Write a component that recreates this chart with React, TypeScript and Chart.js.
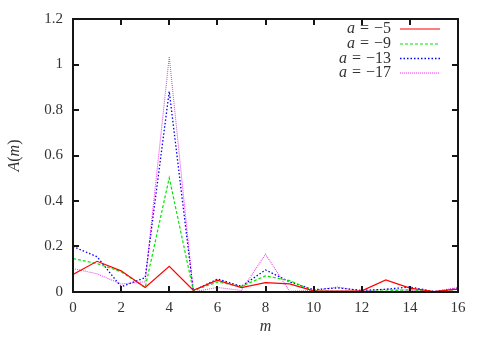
import React, { useEffect, useRef } from "react";
import { Chart, registerables } from "chart.js";

Chart.register(...registerables);

const mValues = [0, 1, 2, 3, 4, 5, 6, 7, 8, 9, 10, 11, 12, 13, 14, 15, 16];
const a5 = [0.077, 0.135, 0.093, 0.02, 0.113, 0.008, 0.052, 0.019, 0.041, 0.036, 0.005, 0.004, 0.005, 0.053, 0.017, 0.002, 0.013];
const a9 = [0.147, 0.125, 0.089, 0.02, 0.502, 0.006, 0.044, 0.025, 0.071, 0.05, 0.005, 0.003, 0.003, 0.004, 0.01, 0.001, 0.012];
const a13 = [0.2, 0.155, 0.023, 0.063, 0.882, 0.005, 0.057, 0.025, 0.097, 0.045, 0.01, 0.018, 0.007, 0.012, 0.022, 0.002, 0.015];
const a17 = [0.103, 0.08, 0.035, 0.045, 1.035, 0.0, 0.02, 0.007, 0.166, 0.003, 0.007, 0.022, 0.004, 0.012, 0.008, 0.001, 0.02];
const seriesLabels = ["−5", "−9", "−13", "−17"];
const xTicks = [0, 2, 4, 6, 8, 10, 12, 14, 16];
const yTicks = [0, 0.2, 0.4, 0.6, 0.8, 1, 1.2];

const SERIF = "'Liberation Serif', 'DejaVu Serif', serif";
const AXIS_COLOR = "#151515";

const boxPlugin = {
  id: "gnuplotBox",
  afterDraw(chart: any) {
    const ctx = chart.ctx as CanvasRenderingContext2D;
    const xs = chart.scales.x;
    const ys = chart.scales.y;
    const left = Math.round(xs.getPixelForValue(0));
    const right = Math.round(xs.getPixelForValue(16));
    const top = Math.round(ys.getPixelForValue(1.2));
    const bottom = Math.round(ys.getPixelForValue(0));
    ctx.save();
    ctx.globalAlpha = 1;
    ctx.fillStyle = AXIS_COLOR;
    const lw = 2;
    ctx.fillRect(left - 1, top - 1, right - left + 2, lw);
    ctx.fillRect(left - 1, bottom - 1, right - left + 2, lw);
    ctx.fillRect(left - 1, top - 1, lw, bottom - top + 2);
    ctx.fillRect(right - 1, top - 1, lw, bottom - top + 2);
    const tl = 6;
    xTicks.forEach((v) => {
      const px = Math.round(xs.getPixelForValue(v));
      ctx.fillRect(px - 1, bottom - tl, lw, tl);
      ctx.fillRect(px - 1, top, lw, tl);
    });
    yTicks.forEach((v) => {
      const py = Math.round(ys.getPixelForValue(v));
      ctx.fillRect(left, py - 1, tl, lw);
      ctx.fillRect(right - tl, py - 1, tl, lw);
    });

    ctx.fillStyle = "#333";
    ctx.font = `italic 16px ${SERIF}`;
    ctx.textAlign = "center";
    ctx.textBaseline = "middle";
    ctx.fillText("m", (left + right) / 2, 327);
    ctx.save();
    ctx.translate(15, (top + bottom) / 2);
    ctx.rotate(-Math.PI / 2);
    ctx.font = `16px ${SERIF}`;
    const w1 = ctx.measureText("(").width;
    ctx.font = `italic 16px ${SERIF}`;
    const wA = ctx.measureText("A").width;
    const wm = ctx.measureText("m").width;
    ctx.font = `16px ${SERIF}`;
    const w2 = ctx.measureText(")").width;
    const total = wA + w1 + wm + w2;
    let x0 = -total / 2;
    ctx.textAlign = "left";
    ctx.font = `italic 16px ${SERIF}`;
    ctx.fillText("A", x0, 0);
    x0 += wA;
    ctx.font = `16px ${SERIF}`;
    ctx.fillText("(", x0, 0);
    x0 += w1;
    ctx.font = `italic 16px ${SERIF}`;
    ctx.fillText("m", x0, 0);
    x0 += wm;
    ctx.font = `16px ${SERIF}`;
    ctx.fillText(")", x0, 0);
    ctx.restore();

    const rows = [29, 44, 58.5, 73];
    chart.data.datasets.forEach((ds: any, i: number) => {
      const y = rows[i];
      ctx.save();
      ctx.strokeStyle = ds.borderColor;
      ctx.lineWidth = ds.borderWidth;
      ctx.setLineDash(ds.borderDash || []);
      ctx.beginPath();
      ctx.moveTo(400, y);
      ctx.lineTo(440, y);
      ctx.stroke();
      ctx.restore();
      ctx.fillStyle = "#333";
      ctx.textBaseline = "middle";
      ctx.textAlign = "right";
      ctx.font = `16px ${SERIF}`;
      const num = seriesLabels[i];
      const wNum = ctx.measureText(num).width;
      ctx.fillText(num, 391, y);
      let x = 391 - wNum - 5;
      ctx.fillText("=", x, y);
      x -= ctx.measureText("=").width + 5;
      ctx.font = `italic 16px ${SERIF}`;
      ctx.fillText("a", x, y);
    });
    ctx.restore();
  },
};

export default function App() {
  const ref = useRef<HTMLCanvasElement | null>(null);
  useEffect(() => {
    document.body.style.margin = "0";
    const toPts = (arr: number[]) => mValues.map((m, i) => ({ x: m, y: arr[i] }));
    const chart = new Chart(ref.current as HTMLCanvasElement, {
      type: "line",
      data: {
        datasets: [
          { label: "a = −5", data: toPts(a5), borderColor: "#ff0000", borderWidth: 1.2, borderDash: [] },
          { label: "a = −9", data: toPts(a9), borderColor: "#00e600", borderWidth: 1.2, borderDash: [3, 2] },
          { label: "a = −13", data: toPts(a13), borderColor: "#0000ff", borderWidth: 1.3, borderDash: [1.5, 2] },
          { label: "a = −17", data: toPts(a17), borderColor: "#f044f0", borderWidth: 1.1, borderDash: [1, 1] },
        ] as any,
      },
      options: {
        animation: false,
        responsive: true,
        maintainAspectRatio: false,
        layout: { padding: { left: 0, right: 27, top: 17, bottom: 0 } },
        elements: { point: { radius: 0 }, line: { tension: 0 } },
        plugins: { legend: { display: false }, tooltip: { enabled: false } },
        scales: {
          x: {
            type: "linear",
            min: 0,
            max: 16,
            grid: { display: false, drawTicks: false, tickLength: 0 },
            border: { display: false },
            ticks: {
              stepSize: 2,
              padding: 7,
              color: "#333",
              font: { family: SERIF, size: 15 },
              maxRotation: 0,
              autoSkip: false,
            },
            afterFit: (s: any) => {
              s.height = 47;
            },
          },
          y: {
            type: "linear",
            min: 0,
            max: 1.2,
            grid: { display: false, drawTicks: false, tickLength: 0 },
            border: { display: false },
            ticks: {
              stepSize: 0.2,
              padding: 10,
              color: "#333",
              font: { family: SERIF, size: 15 },
              callback: (v: any) => String(+Number(v).toFixed(1)),
            },
            afterFit: (s: any) => {
              s.width = 73;
            },
          },
        },
      },
      plugins: [boxPlugin],
    });
    return () => chart.destroy();
  }, []);
  return (
    <div style={{ width: 485, height: 339, position: "relative" }}>
      <canvas ref={ref} />
    </div>
  );
}
